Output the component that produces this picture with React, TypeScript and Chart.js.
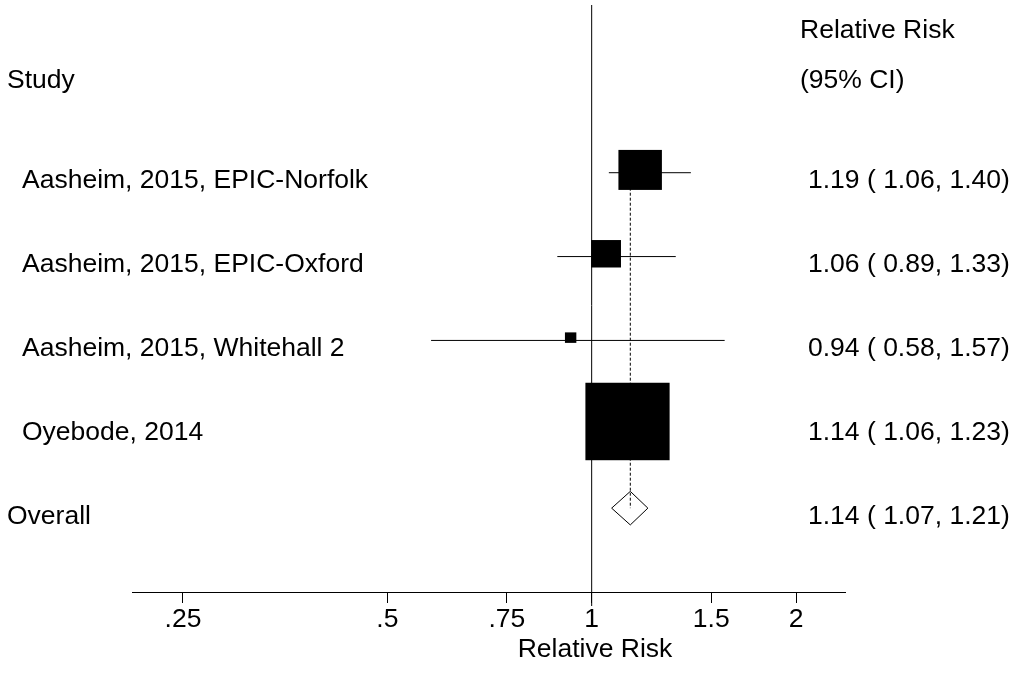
import { useEffect, useRef } from "react";
import { Chart, registerables } from "chart.js";

Chart.register(...registerables);

// ---- data ----
const studies = [
  "Aasheim, 2015, EPIC-Norfolk",
  "Aasheim, 2015, EPIC-Oxford",
  "Aasheim, 2015, Whitehall 2",
  "Oyebode, 2014",
];
const rr = [1.19, 1.06, 0.94, 1.14];
const lower = [1.06, 0.89, 0.58, 1.06];
const upper = [1.4, 1.33, 1.57, 1.23];
const weights = [18.9, 8.9, 1.3, 70.9];
const overallLabel = "Overall";
const overallRR = 1.14;
const overallLower = 1.07;
const overallUpper = 1.21;
const tickValues = [0.25, 0.5, 0.75, 1, 1.5, 2];
const tickLabels = [".25", ".5", ".75", "1", "1.5", "2"];
const xMin = 0.2103;
const xMax = 2.3614;
const headerLeft = "Study";
const headerRight1 = "Relative Risk";
const headerRight2 = "(95% CI)";
const xTitle = "Relative Risk";

const FONT = '"Liberation Sans", Arial, Helvetica, sans-serif';
const FS = 26.5;

const fmt = (v: number) => v.toFixed(2);

export default function App() {
  const ref = useRef<HTMLCanvasElement | null>(null);

  useEffect(() => {
    const canvas = ref.current;
    if (!canvas) return;

    const rows = studies.map((_, i) => i + 1);
    const overallRow = studies.length + 1;

    const datasets: any[] = [];
    // dashed pooled line
    datasets.push({
      data: [
        { x: overallRR, y: rows[0] },
        { x: overallRR, y: overallRow },
      ],
      showLine: true,
      borderColor: "#000",
      borderWidth: 1,
      borderDash: [3, 2],
      pointRadius: 0,
    });
    // CI lines
    studies.forEach((_, i) => {
      datasets.push({
        data: [
          { x: lower[i], y: rows[i] },
          { x: upper[i], y: rows[i] },
        ],
        showLine: true,
        borderColor: "#000",
        borderWidth: 1,
        pointRadius: 0,
      });
    });
    // diamond
    datasets.push({
      data: [
        { x: overallLower, y: overallRow },
        { x: overallRR, y: overallRow - 0.2 },
        { x: overallUpper, y: overallRow },
        { x: overallRR, y: overallRow + 0.2 },
        { x: overallLower, y: overallRow },
      ],
      showLine: true,
      borderColor: "#000",
      borderWidth: 1,
      pointRadius: 0,
    });

    const forestPlugin = {
      id: "forest",
      beforeDatasetsDraw(chart: any) {
        const { ctx, chartArea, scales } = chart;
        const x1 = scales.x.getPixelForValue(1);
        ctx.save();
        ctx.strokeStyle = "#000";
        ctx.lineWidth = 1;
        ctx.beginPath();
        ctx.moveTo(x1, chartArea.top);
        ctx.lineTo(x1, chartArea.bottom + 14);
        ctx.stroke();
        ctx.restore();
      },
      afterDatasetsDraw(chart: any) {
        const { ctx, scales } = chart;
        ctx.save();
        ctx.fillStyle = "#000";
        studies.forEach((_, i) => {
          const cx = scales.x.getPixelForValue(rr[i]) - 2.8;
          const cy = scales.y.getPixelForValue(rows[i]) - 2.8;
          const s = Math.sqrt(weights[i]);
          const w = 10 * s;
          const h = 9.2 * s;
          ctx.fillRect(cx - w / 2, cy - h / 2, w, h);
        });
        ctx.restore();
      },
      afterDraw(chart: any) {
        const { ctx, scales } = chart;
        const y = scales.y;
        const base = (v: number) => y.getPixelForValue(v) + 15.6;
        ctx.save();
        ctx.fillStyle = "#000";
        ctx.font = `${FS}px ${FONT}`;
        ctx.textBaseline = "alphabetic";
        ctx.textAlign = "left";
        ctx.fillText(headerRight1, 800, base(-0.79));
        ctx.fillText(headerRight2, 800, base(-0.2));
        ctx.fillText(headerLeft, 7, base(-0.2));
        studies.forEach((s, i) => {
          ctx.fillText(s, 22, base(rows[i]));
          ctx.fillText(
            `${fmt(rr[i])} ( ${fmt(lower[i])}, ${fmt(upper[i])})`,
            808,
            base(rows[i])
          );
        });
        ctx.fillText(overallLabel, 7, base(overallRow));
        ctx.fillText(
          `${fmt(overallRR)} ( ${fmt(overallLower)}, ${fmt(overallUpper)})`,
          808,
          base(overallRow)
        );
        ctx.textAlign = "center";
        ctx.fillText(xTitle, 595, 657);
        ctx.restore();
      },
    };

    const chart = new Chart(canvas, {
      type: "scatter",
      data: { datasets },
      options: {
        animation: false,
        responsive: false,
        events: [],
        layout: { padding: { left: 132, right: 167, top: 5, bottom: 0 } },
        plugins: { legend: { display: false }, tooltip: { enabled: false } },
        scales: {
          x: {
            type: "logarithmic",
            min: xMin,
            max: xMax,
            afterBuildTicks: (scale: any) => {
              scale.ticks = tickValues.map((v) => ({ value: v }));
            },
            afterFit: (scale: any) => {
              scale.height = 94;
            },
            ticks: {
              autoSkip: false,
              maxRotation: 0,
              minRotation: 0,
              padding: 6,
              color: "#000",
              font: { family: FONT, size: FS, lineHeight: 0.8 },
              callback: (v: any) => {
                const idx = tickValues.findIndex((t) => Math.abs(t - Number(v)) < 1e-9);
                return idx >= 0 ? tickLabels[idx] : "";
              },
            },
            grid: {
              display: true,
              drawOnChartArea: false,
              drawTicks: true,
              tickLength: 11,
              color: "#000",
              lineWidth: 1,
            },
            border: { display: true, color: "#000", width: 1 },
          },
          y: {
            type: "linear",
            min: -1,
            max: 6,
            reverse: true,
            display: false,
          },
        },
      },
      plugins: [forestPlugin],
    } as any);

    return () => chart.destroy();
  }, []);

  return (
    <div style={{ position: "fixed", left: 0, top: 0, width: 1012, height: 686, background: "#fff" }}>
      <canvas ref={ref} width={1012} height={686} style={{ display: "block" }} />
    </div>
  );
}
